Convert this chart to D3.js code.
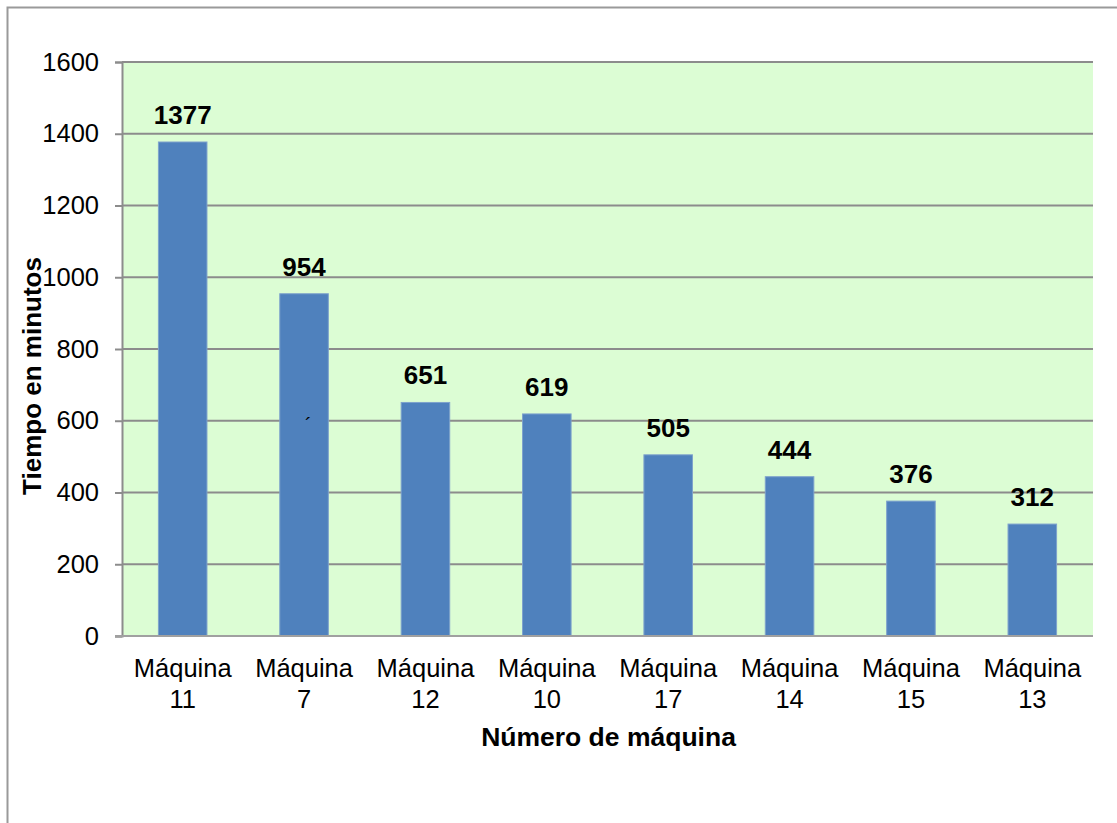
<!DOCTYPE html>
<html>
<head>
<meta charset="utf-8">
<script src="https://cdn.jsdelivr.net/npm/d3@7"></script>
<style>
  body { margin: 0; background: #fff; }
  text { font-family: "Liberation Sans", Arial, sans-serif; }
</style>
</head>
<body>
<div class="chart"></div>
<script>
const maquinas = ['Máquina 11', 'Máquina 7', 'Máquina 12', 'Máquina 10', 'Máquina 17', 'Máquina 14', 'Máquina 15', 'Máquina 13'];
const tiempos = [1377, 954, 651, 619, 505, 444, 376, 312];
const yTicks = [0, 200, 400, 600, 800, 1000, 1200, 1400, 1600];

function draw_bars() {
    let width = 1117, height = 823;
    let plot = { left: 122, top: 62, right: 1093, bottom: 636 };

    let svg = d3.select('.chart')
        .append('svg')
        .attr('width', width)
        .attr('height', height);

    // outer frame
    svg.append('rect')
        .attr('x', 7.5).attr('y', 7.5)
        .attr('width', width + 10).attr('height', height + 10)
        .attr('fill', 'white')
        .attr('stroke', '#9a9a9a')
        .attr('stroke-width', 2);

    let x = d3.scaleBand()
        .domain(maquinas)
        .range([plot.left, plot.right])
        .paddingInner(0.6)
        .paddingOuter(0.3);

    let y = d3.scaleLinear()
        .domain([0, 1600])
        .range([plot.bottom, plot.top]);

    svg.append('rect')
        .attr('x', plot.left).attr('y', plot.top)
        .attr('width', plot.right - plot.left)
        .attr('height', plot.bottom - plot.top)
        .attr('fill', '#dcfdd4');

    // gridlines
    svg.append('g')
        .selectAll('line')
        .data(yTicks.filter(d => d > 0))
        .join('line')
        .attr('x1', plot.left).attr('x2', plot.right)
        .attr('y1', d => y(d)).attr('y2', d => y(d))
        .attr('stroke', '#8c8c8c')
        .attr('stroke-width', 2);

    // y axis
    let yAxis = svg.append('g')
        .attr('transform', `translate(${plot.left},0)`)
        .call(d3.axisLeft(y).tickValues(yTicks).tickFormat(d3.format('d')).tickSize(7).tickPadding(16));
    yAxis.select('.domain').attr('stroke', '#8c8c8c').attr('stroke-width', 2);
    yAxis.selectAll('.tick line').attr('stroke', '#8c8c8c').attr('stroke-width', 2);
    yAxis.selectAll('.tick text')
        .attr('font-size', 25.5)
        .attr('font-family', '"Liberation Sans", Arial, sans-serif')
        .attr('fill', '#000');

    // bars
    svg.append('g')
        .selectAll('rect')
        .data(tiempos)
        .join('rect')
        .attr('x', (d, i) => x(maquinas[i]))
        .attr('y', d => y(d))
        .attr('width', x.bandwidth())
        .attr('height', d => y(0) - y(d))
        .attr('fill', '#4f81bd')
        .attr('stroke', '#7ea2cc')
        .attr('stroke-width', 1);

    // x axis baseline
    svg.append('line')
        .attr('x1', plot.left - 7).attr('x2', plot.right)
        .attr('y1', y(0)).attr('y2', y(0))
        .attr('stroke', '#a0a0a0')
        .attr('stroke-width', 2);

    // value labels
    svg.append('g')
        .attr('text-anchor', 'middle')
        .attr('font-size', 26)
        .attr('font-weight', 'bold')
        .selectAll('text')
        .data(tiempos)
        .join('text')
        .attr('x', (d, i) => x(maquinas[i]) + x.bandwidth() / 2)
        .attr('y', d => y(d) - 18)
        .text(d => d);

    // category labels
    let cat = svg.append('g')
        .attr('text-anchor', 'middle')
        .attr('font-size', 25.5)
        .selectAll('text')
        .data(maquinas)
        .join('text')
        .attr('transform', d => `translate(${x(d) + x.bandwidth() / 2}, ${plot.bottom})`);
    cat.append('tspan').attr('x', 0).attr('y', 41).text(d => d.split(' ')[0]);
    cat.append('tspan').attr('x', 0).attr('y', 72).text(d => d.split(' ')[1]);

    // axis titles
    svg.append('text')
        .attr('x', (plot.left + plot.right) / 2 + 1)
        .attr('y', 746)
        .attr('text-anchor', 'middle')
        .attr('font-size', 26.5)
        .attr('font-weight', 'bold')
        .text('Número de máquina');

    svg.append('text')
        .attr('transform', `translate(41, ${(plot.top + plot.bottom) / 2 + 27}) rotate(-90)`)
        .attr('text-anchor', 'middle')
        .attr('font-size', 26)
        .attr('font-weight', 'bold')
        .text('Tiempo en minutos');

    // stray mark in the original
    svg.append('text')
        .attr('x', 305).attr('y', 432)
        .attr('font-size', 20)
        .text('´');
}

draw_bars();
</script>
</body>
</html>
